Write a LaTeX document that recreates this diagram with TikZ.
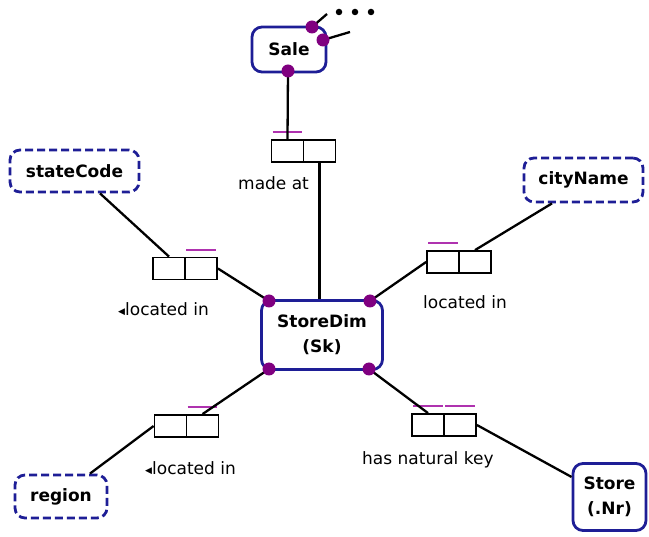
\documentclass[tikz,border=0pt]{standalone}
\usepackage{fontspec}
\setmainfont{DejaVu Sans}
\usetikzlibrary{calc}
\definecolor{boxblue}{RGB}{30,30,150}
\definecolor{dotpurple}{RGB}{128,0,128}
\definecolor{tickpurple}{RGB}{175,50,175}
\tikzset{
  entity/.style={draw=boxblue, line width=2.8pt, rounded corners=10pt, fill=white,
    font=\bfseries\fontsize{17}{25}\selectfont, align=center, inner sep=0pt},
  valuebox/.style={draw=boxblue, line width=2.8pt, dash pattern=on 8pt off 4pt,
    rounded corners=10pt, fill=white, font=\bfseries\fontsize{17}{25}\selectfont, inner sep=0pt},
  cell/.style={draw=black, line width=1.8pt, minimum width=32pt, minimum height=22pt,
    inner sep=0pt, fill=white},
  role/.style={font=\fontsize{17}{20}\selectfont, inner sep=0pt},
  conn/.style={draw=black, line width=2.3pt},
  tick/.style={draw=tickpurple, line width=2pt},
  joint/.style={circle, fill=dotpurple, minimum size=13pt, inner sep=0pt},
  etc/.style={circle, fill=black, minimum size=6.5pt, inner sep=0pt}
}
\newcommand{\uniq}[1]{\draw[tick] ($(#1.north west)+(2,-7)$) -- ($(#1.north east)+(-2,-7)$);}
\begin{document}
\begin{tikzpicture}[x=1pt,y=-1pt]
\useasboundingbox (0,0) rectangle (649,537);

% object types
\node[entity, minimum width=74pt, minimum height=45pt] (sale) at (289,49.5) {Sale};
\node[entity, minimum width=121pt, minimum height=69pt] (sd) at (322,335) {StoreDim\\(Sk)};
\node[entity, minimum width=73pt, minimum height=67pt] (store) at (609.5,497) {Store\\(.Nr)};
\node[valuebox, minimum width=129pt, minimum height=42pt] (state) at (74.5,171) {stateCode};
\node[valuebox, minimum width=119pt, minimum height=44pt] (city) at (583.5,180) {cityName};
\node[valuebox, minimum width=92pt, minimum height=43pt] (region) at (61,496.5) {region};

% fact type boxes (two roles each)
\node[cell] (madeL) at (287.5,151) {};
\node[cell] (madeR) at (319.5,151) {};
\node[cell] (stL) at (169,268.5) {};
\node[cell] (stR) at (201,268.5) {};
\node[cell] (ctL) at (443,262) {};
\node[cell] (ctR) at (475,262) {};
\node[cell] (rgL) at (170.5,426) {};
\node[cell] (rgR) at (202.5,426) {};
\node[cell] (nkL) at (428,425) {};
\node[cell] (nkR) at (460,425) {};

% uniqueness constraints
\uniq{madeL}
\uniq{stR}
\uniq{ctL}
\uniq{rgR}
\uniq{nkL}
\uniq{nkR}

% role connection points
\coordinate (saleB) at (288,71);
\coordinate (saleT) at (312,27);
\coordinate (saleR) at (323,40);
\coordinate (sdTL) at (269,301);
\coordinate (sdTR) at (370,301);
\coordinate (sdBL) at (269,369);
\coordinate (sdBR) at (369,369);
\coordinate (more1) at (327,14);
\coordinate (more2) at (350,32);

% connectors
\draw[conn] (saleT) -- (more1);
\draw[conn] (saleR) -- (more2);
\draw[conn] (saleB) -- (madeL.north);
\draw[conn] (madeR.south) -- (madeR.south |- sd.north);
\draw[conn] (state.south -| 100,0) -- (stL.north);
\draw[conn] (stR.east) -- (sdTL);
\draw[conn] (sdTR) -- (ctL.west);
\draw[conn] (city.south -| 552,0) -- (ctR.north);
\draw[conn] (sdBL) -- (rgR.north);
\draw[conn] (rgL.west) -- (region.north -| 90,0);
\draw[conn] (sdBR) -- (nkL.north);
\draw[conn] (nkR.east) -- (store.west |- 0,477);

% role joints
\foreach \p/\n in {saleB/j1,saleT/j2,saleR/j3,sdTL/j4,sdTR/j5,sdBL/j6,sdBR/j7}
  \node[joint] (\n) at (\p) {};

% further roles of Sale
\node[etc] (e1) at (339,12) {};
\node[etc] (e2) at (355,12) {};
\node[etc] (e3) at (371,12) {};

% fact type readings
\node[role, anchor=west] (lblMade) at (238,183) {made at};
\node[role, anchor=west] (lblSt) at (118,309) {{\fontsize{9}{9}\selectfont\raisebox{1pt}{◀}}located in};
\node[role, anchor=west] (lblCt) at (423,302) {located in};
\node[role, anchor=west] (lblRg) at (145,468) {{\fontsize{9}{9}\selectfont\raisebox{1pt}{◀}}located in};
\node[role, anchor=west] (lblNk) at (362,460) {has natural key};
\end{tikzpicture}
\end{document}
